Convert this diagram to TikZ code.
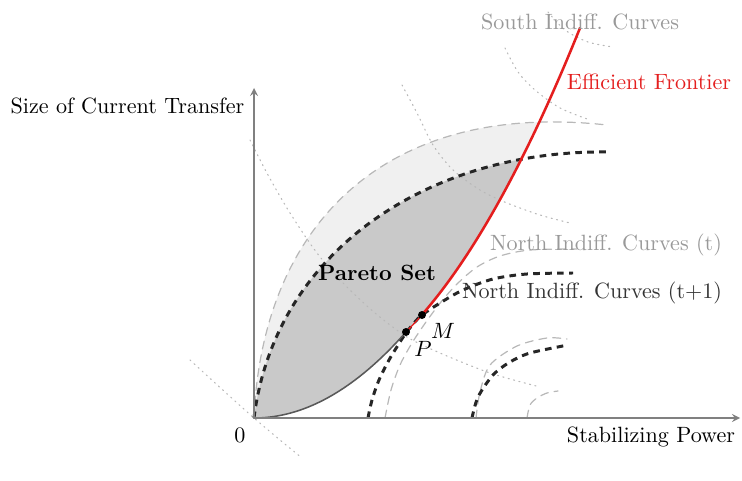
\documentclass[tikz,border=0pt]{standalone}
\usepackage{tikz}
\definecolor{paretofill}{gray}{0.79}
\definecolor{lightfill}{gray}{0.94}
\definecolor{labelgray}{gray}{0.6}
\definecolor{curvegray}{gray}{0.72}
\definecolor{axisgray}{gray}{0.5}
\definecolor{frontierred}{RGB}{228,30,30}
\begin{document}
\begin{tikzpicture}[x=0.0159cm, y=-0.0159cm, >=stealth, line join=round, line cap=round]
	\tikzset{
		indiff/.style={dotted, curvegray, line width=.5pt},
		northold/.style={curvegray, line width=.55pt, dash pattern=on 3.6pt off 2.7pt},
		northnew/.style={black!85, line width=1.35pt, dash pattern=on 3pt off 2.4pt, line cap=butt},
		lbl/.style={inner sep=1pt},
		declare function={lower(\x)=418-(0.061*(\x-254))^2;
			front(\x)=332-1.01*(\x-406)-(0.0651*(\x-406))^2;}
	}
	\useasboundingbox (0,0) rectangle (742,481);
	\path (254,418) coordinate (O)
	(406,332) coordinate (P)
	(422,315) coordinate (M)
	(607,125) coordinate (Tend)
	(607,152) coordinate (Tone);
	% shaded sets, cut along the frontier
	\begin{scope}
		\clip plot[domain=254:406, samples=40] (\x,{lower(\x)})
		-- plot[domain=406:580, samples=40] (\x,{front(\x)})
		-- (254,28) -- cycle;
		\fill[lightfill] (O) .. controls (262,230) and (380,100) .. (Tend) -- (700,418) -- cycle;
		\fill[paretofill] (O) .. controls (275,250) and (430,150) .. (Tone) -- (700,418) -- cycle;
	\end{scope}
	% south indifference curves
	\draw[indiff] plot[smooth] coordinates {(548,12) (565,30) (588,42) (613,47)};
	\draw[indiff] plot[smooth] coordinates {(505,48) (518,72) (535,90) (560,108) (590,120)};
	\draw[indiff] plot[smooth] coordinates {(402,85) (417,113) (433,145) (453,170) (480,190) (507,203) (540,215) (570,223)};
	\draw[indiff] plot[smooth] coordinates {(250,140) (268,175) (290,213) (317,253) (345,285) (375,313) (407,337) (440,353) (490,373) (540,387)};
	\draw[indiff] plot[smooth] coordinates {(190,360) (225,392) (254,418) (280,440) (302,458)};
	% north indifference curves (t)
	\draw[northold] (O) .. controls (262,230) and (380,100) .. (Tend);
	\draw[northold] plot[smooth] coordinates {(385,418) (391,390) (400,365) (412,343) (426,322) (441,302) (457,284) (477,267) (500,256) (530,250) (577,249)};
	\draw[northold] plot[smooth] coordinates {(476,418) (480,392) (490,365) (517,346) (547,338) (567,339)};
	\draw[northold] plot[smooth] coordinates {(527,418) (530,405) (537,398) (547,393) (558,391)};
	% north indifference curves (t+1)
	\draw[northnew] (O) .. controls (275,250) and (430,150) .. (Tone);
	\draw[northnew] plot[smooth] coordinates {(368,418) (372,400) (379,380) (389,360) (400,342) (406,333) (414,323) (422,315) (440,303) (463,290) (493,279) (527,274) (573,273)};
	\draw[northnew] plot[smooth] coordinates {(472,418) (478,397) (493,375) (510,362) (530,353) (568,345)};
	% lower edge of the set
	\draw[black!65, line width=.7pt] plot[domain=254:406, samples=40] (\x,{lower(\x)});
	% axes
	\draw[->, axisgray, line width=.6pt] (O) -- (740,418);
	\draw[->, axisgray, line width=.6pt] (O) -- (254,88);
	% efficient frontier
	\draw[frontierred, line width=.6pt] plot[domain=406:422, samples=5] (\x,{front(\x)});
	\draw[frontierred, line width=1.15pt] plot[domain=422:580, samples=40] (\x,{front(\x)});
	\foreach \p in {P, M}{
		\fill[black] (\p) circle (4);
	}
	% labels
	\node[lbl, anchor=east] (ylab) at (247,106) {Size of Current Transfer};
	\node[lbl] (xlab) at (651,437) {Stabilizing Power};
	\node[lbl] (zero) at (240,435) {0};
	\node[lbl, text=labelgray] (south) at (580,22) {South Indiff. Curves};
	\node[lbl, text=frontierred] (eff) at (649,82) {Efficient Frontier};
	\node[lbl, text=labelgray] (northt) at (606,245) {North Indiff. Curves (t)};
	\node[lbl, text=black!80] (northtt) at (592,293) {North Indiff. Curves (t+1)};
	\node[lbl, font=\bfseries] (pareto) at (377,273) {Pareto Set};
	\node[lbl] (mlab) at (443,331) {$M$};
	\node[lbl] (plab) at (423,349) {$P$};
\end{tikzpicture}
\end{document}
